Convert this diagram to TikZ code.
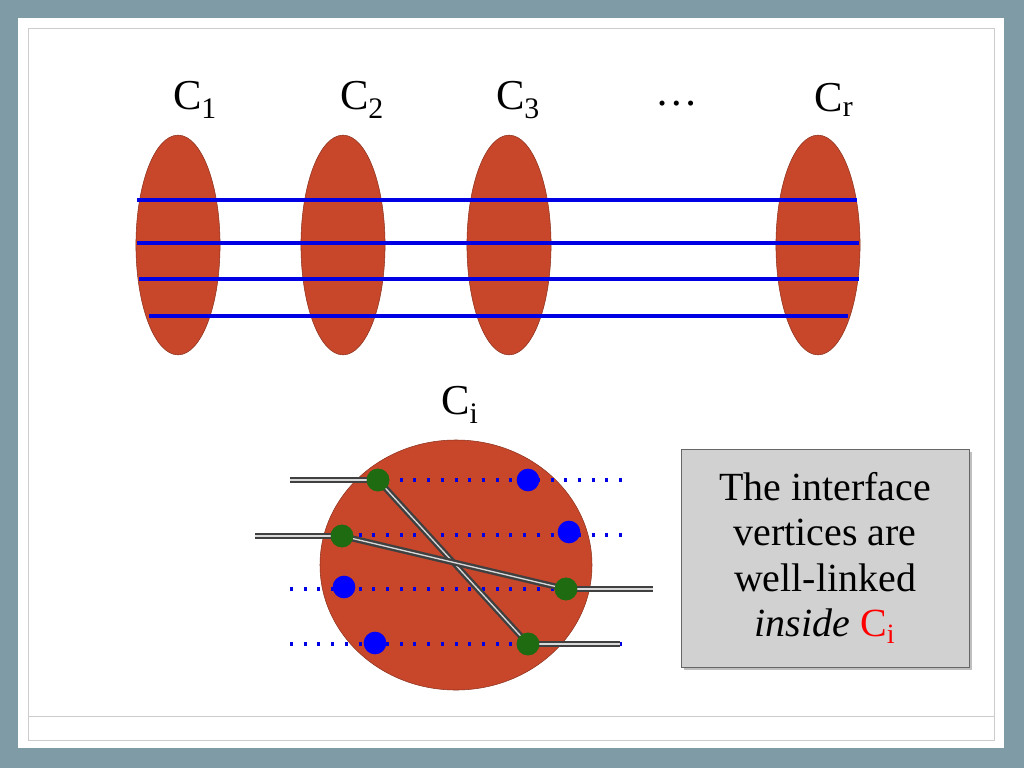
\documentclass[tikz,border=0pt]{standalone}
\usepackage{fontspec}
\setmainfont{Liberation Serif}
\usetikzlibrary{positioning, arrows.meta, shadows, shapes.geometric}
\definecolor{slideblue}{HTML}{7F9BA6}
\definecolor{clusterred}{HTML}{C8472B}
\definecolor{linkgreen}{HTML}{1E6B12}
\tikzset{
    cluster/.style={ellipse, draw=clusterred!70!black, fill=clusterred, inner sep=0pt},
    bigfont/.style={font=\fontsize{32}{36}\selectfont, inner sep=0pt},
    bluepath/.style={draw=blue!90!black, line width=2.3pt},
    dotline/.style={draw=blue!90!black, line width=2.3pt, dash pattern=on 2.3pt off 8pt},
    terminal/.style={circle, minimum size=17pt, inner sep=0pt},
    link/.style={draw=black!75, double=white!70!gray, double distance=1pt, line width=1.8pt}
}

\begin{document}
\begin{tikzpicture}[x=0.0264cm, y=-0.0264cm]
            % Slide background
            \fill [slideblue] (0,0) rectangle (1024,768);
            \fill [white] (18,18) rectangle (1004,748);
            \draw [black!20] (28,28) rectangle (994,740);
            \draw [black!20] (28,716) -- (994,716);

            % Clusters in a row
            \foreach \name/\x/\lab/\lx in {one/178/{C\textsubscript{1}}/195, two/343/{C\textsubscript{2}}/362, three/509/{C\textsubscript{3}}/518, last/818/{C\textsubscript{r}}/834} {
                \node [cluster, minimum width=2.22cm, minimum height=5.8cm] (\name) at (\x,245) {};
                \node [bigfont] (lab\name) at (\lx,100) {\lab};
            }
            \node [bigfont] (dots) at (677,104) {\dots};

            % Paths across the clusters
            \draw [bluepath] (137,200) -- (857,200);
            \draw [bluepath] (137,243) -- (859,243);
            \draw [bluepath] (139,279) -- (859,279);
            \draw [bluepath] (149,316) -- (848,316);

            % Single cluster in detail
            \node [bigfont] (labci) at (460,405) {C\textsubscript{i}};
            \node [cluster, minimum width=7.18cm, minimum height=6.6cm] (ci) at (456,565) {};
            \foreach \y in {480,535,589,644}
                \draw [dotline] (290,\y) -- (622,\y);

            % Links through the cluster
            \coordinate (ina) at (290,480);
            \coordinate (inb) at (255,536);
            \coordinate (outa) at (653,589);
            \coordinate (outb) at (620,644);
            \node [terminal, fill=linkgreen] (ga) at (378,480) {};
            \node [terminal, fill=linkgreen] (gb) at (342,536) {};
            \node [terminal, fill=linkgreen] (gc) at (566,589) {};
            \node [terminal, fill=linkgreen] (gd) at (528,644) {};
            \draw [link] (ina) -- (ga.center);
            \draw [link] (inb) -- (gb.center);
            \draw [link] (gc.center) -- (outa);
            \draw [link] (gd.center) -- (outb);
            \draw [link] (ga.center) -- (gd.center);
            \draw [link] (gb.center) -- (gc.center);
            \node [terminal, fill=linkgreen] at (ga) {};
            \node [terminal, fill=linkgreen] at (gb) {};
            \node [terminal, fill=linkgreen] at (gc) {};
            \node [terminal, fill=linkgreen] at (gd) {};
            \node [terminal, fill=blue] (ba) at (528,480) {};
            \node [terminal, fill=blue] (bb) at (569,532) {};
            \node [terminal, fill=blue] (bc) at (344,587) {};
            \node [terminal, fill=blue] (bd) at (375,643) {};

            % Note box
            \node [draw=black!60, fill=black!18, drop shadow, minimum width=7.6cm, minimum height=5.75cm, align=center, font=\fontsize{30}{34}\selectfont] (note) at (825,558)
                {The interface\\ vertices are\\ well-linked\\ \textit{inside} \textcolor{red}{C\textsubscript{i}}};
        \end{tikzpicture}
\end{document}
